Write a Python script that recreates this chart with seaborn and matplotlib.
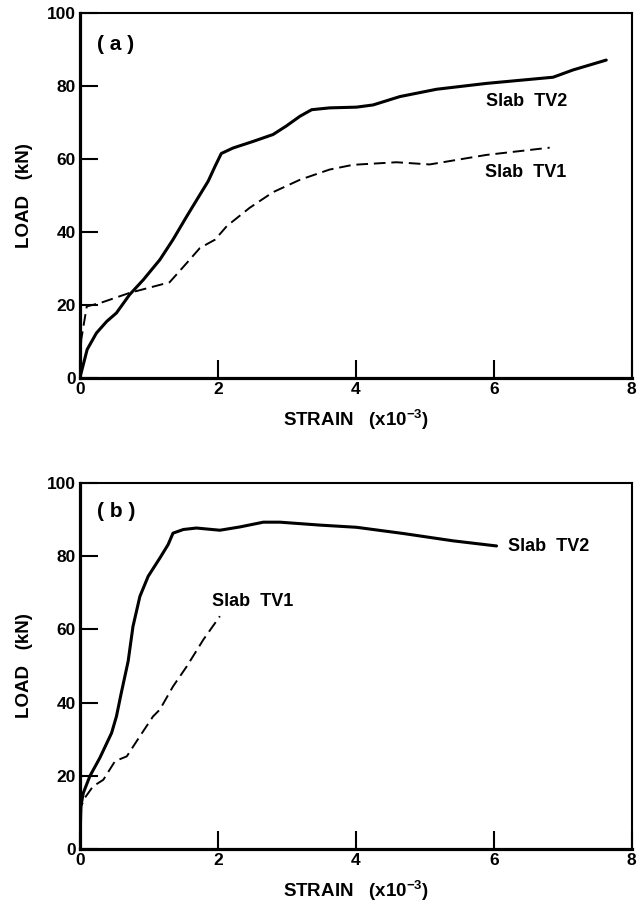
import matplotlib
matplotlib.use('Agg')
import matplotlib.pyplot as plt
import seaborn as sns

# panel (a): load vs strain
a_tv2_strain = [0, 0.106, 0.24, 0.39, 0.53, 0.72, 0.92, 1.16, 1.35, 1.55, 1.74, 1.86, 1.96, 2.05,
                2.22, 2.51, 2.80, 2.99, 3.19, 3.36, 3.62, 4.01, 4.25, 4.64, 5.17, 5.89, 6.86, 7.15, 7.63]
a_tv2_load = [0, 7.8, 12.3, 15.5, 17.8, 22.8, 26.9, 32.4, 37.9, 44.3, 50.2, 53.9, 58.0, 61.5,
              63.0, 64.8, 66.7, 69.0, 71.7, 73.5, 74.0, 74.2, 74.8, 77.1, 79.1, 80.7, 82.4, 84.4, 87.1]
a_tv1_strain = [0, 0.02, 0.10, 0.29, 0.72, 1.30, 1.55, 1.74, 1.96, 2.13, 2.46, 2.80, 3.19, 3.62,
                3.96, 4.59, 5.07, 5.89, 6.81]
a_tv1_load = [0, 10.5, 19.6, 20.5, 23.3, 26.2, 31.5, 35.6, 37.9, 41.6, 46.6, 50.9, 54.3, 57.1,
              58.4, 59.1, 58.5, 61.1, 63.1]

# panel (b)
b_tv2_strain = [0, 0.015, 0.05, 0.145, 0.29, 0.46, 0.53, 0.60, 0.70, 0.77, 0.87, 0.99, 1.16, 1.28,
                1.35, 1.50, 1.69, 2.03, 2.32, 2.66, 2.90, 3.48, 4.01, 4.69, 5.41, 6.04]
b_tv2_load = [0, 11.7, 15.3, 19.9, 24.9, 31.7, 36.2, 42.6, 51.3, 60.8, 69.0, 74.5, 79.5, 83.2,
              86.3, 87.3, 87.7, 87.1, 88.0, 89.3, 89.3, 88.5, 87.9, 86.2, 84.2, 82.8]
b_tv1_strain = [0, 0.02, 0.07, 0.19, 0.34, 0.51, 0.68, 0.87, 1.06, 1.16, 1.35, 1.55, 1.79, 2.03]
b_tv1_load = [0, 11.7, 13.9, 17.1, 18.9, 24.0, 25.3, 30.8, 36.2, 38.1, 44.4, 49.9, 57.2, 63.6]

x_ticks = [0, 2, 4, 6, 8]
y_ticks = [0, 20, 40, 60, 80, 100]

sns.set_style('white')
plt.rcParams['font.family'] = ['Liberation Sans', 'DejaVu Sans']
plt.rcParams['font.weight'] = 'bold'
plt.rcParams['text.color'] = 'black'
plt.rcParams['axes.labelcolor'] = 'black'
plt.rcParams['xtick.color'] = 'black'
plt.rcParams['ytick.color'] = 'black'
plt.rcParams['mathtext.default'] = 'bf'
plt.rcParams['mathtext.fontset'] = 'custom'
plt.rcParams['mathtext.bf'] = 'Liberation Sans:bold'

fig = plt.figure(figsize=(6.44, 9.02), dpi=100)
ax1 = fig.add_axes([0.124, 0.581, 0.857, 0.4046])
ax2 = fig.add_axes([0.124, 0.0588, 0.857, 0.4057])

panels = [
    (ax1, a_tv2_strain, a_tv2_load, a_tv1_strain, a_tv1_load, '( a )', 91.5,
     [(5.88, 75.7, 'Slab  TV2'), (5.87, 56.3, 'Slab  TV1')]),
    (ax2, b_tv2_strain, b_tv2_load, b_tv1_strain, b_tv1_load, '( b )', 92.3,
     [(6.2, 82.6, 'Slab  TV2'), (1.92, 67.5, 'Slab  TV1')]),
]

for ax, s2, l2, s1, l1, tag, tag_y, labels in panels:
    sns.lineplot(x=s2, y=l2, sort=False, estimator=None, color='black', lw=2.2, ax=ax)
    sns.lineplot(x=s1, y=l1, sort=False, estimator=None, color='black', lw=1.4, ax=ax)
    ax.lines[-1].set_dashes((6, 3))
    ax.set_xlim(0, 8)
    ax.set_ylim(0, 100)
    ax.set_xticks(x_ticks)
    ax.set_yticks(y_ticks)
    ax.tick_params(bottom=True, left=True, direction='in', length=13, width=1.5,
                   labelsize=12.5, pad=3, color='black')
    for side in ['left', 'bottom']:
        ax.spines[side].set_linewidth(2.3)
    for side in ['top', 'right']:
        ax.spines[side].set_linewidth(1.5)
    for sp in ax.spines.values():
        sp.set_color('black')
    ax.set_xlabel('STRAIN   (x10$^{-3}$)', fontsize=13.5, fontweight='bold', labelpad=8)
    ax.set_ylabel('LOAD   (kN)', fontsize=13.5, fontweight='bold', labelpad=10)
    ax.text(0.25, tag_y, tag, fontsize=15, fontweight='bold', va='center', ha='left')
    for x, y, txt in labels:
        ax.text(x, y, txt, fontsize=13, fontweight='bold', va='center', ha='left')

fig.savefig('out.png', dpi=100)
